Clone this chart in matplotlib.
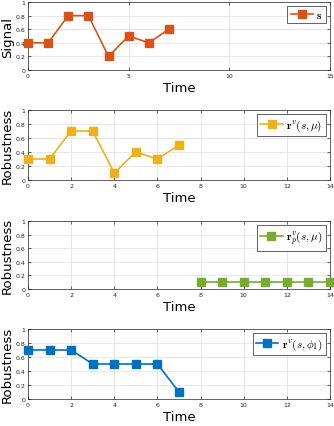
import matplotlib.pyplot as plt
import numpy as np

plt.rcParams["mathtext.fontset"] = "cm"
plt.rcParams["font.family"] = "DejaVu Sans"

# data
t_signal = [0, 1, 2, 3, 4, 5, 6, 7]
signal = [0.4, 0.4, 0.8, 0.8, 0.2, 0.5, 0.4, 0.6]

t_rob_mu = [0, 1, 2, 3, 4, 5, 6, 7]
rob_mu = [0.3, 0.3, 0.7, 0.7, 0.1, 0.4, 0.3, 0.5]

t_rob_p = [8, 9, 10, 11, 12, 13, 14]
rob_p = [0.1, 0.1, 0.1, 0.1, 0.1, 0.1, 0.1]

t_rob_phi = [0, 1, 2, 3, 4, 5, 6, 7]
rob_phi = [0.7, 0.7, 0.7, 0.5, 0.5, 0.5, 0.5, 0.1]

panels = [
    (t_signal, signal, "#D95319", r"$\mathbf{s}$", "Signal", 15, [0, 5, 10, 15]),
    (t_rob_mu, rob_mu, "#EDB120", r"$\mathbf{r}^v(s,\mu)$", "Robustness", 14, list(range(0, 15, 2))),
    (t_rob_p, rob_p, "#77AC30", r"$\mathbf{r}^v_p(s,\mu)$", "Robustness", 14, list(range(0, 15, 2))),
    (t_rob_phi, rob_phi, "#0072BD", r"$\mathbf{r}^v(s,\phi_1)$", "Robustness", 14, list(range(0, 15, 2))),
]

W, H = 334, 427
fig = plt.figure(figsize=(W / 100, H / 100), dpi=100)

# axes boxes in pixels: (left, top, right, bottom)
boxes = [(28, 3, 330, 71), (28, 111, 330, 181), (28, 222, 330, 290), (28, 330, 330, 400)]

for (t, y, color, label, ylabel, xmax, xticks), (l, tp, r, b) in zip(panels, boxes):
    ax = fig.add_axes([l / W, 1 - b / H, (r - l) / W, (b - tp) / H])
    ax.plot(t, y, "-s", color=color, lw=1.2, ms=5.8, mec=color, label=label,
            clip_on=False, zorder=3)
    ax.set_xlim(0, xmax)
    ax.set_ylim(0, 1)
    ax.set_xticks(xticks)
    ax.set_yticks([0, 0.2, 0.4, 0.6, 0.8, 1])
    ax.set_yticklabels(["0", "0.2", "0.4", "0.6", "0.8", "1"])
    ax.tick_params(labelsize=4.5, direction="in", length=2, width=0.5,
                   top=True, right=True, colors="#262626", pad=2)
    ax.grid(True, color="#e3e3e3", lw=0.6)
    ax.set_axisbelow(True)
    for s in ax.spines.values():
        s.set_linewidth(0.5)
        s.set_color("#262626")
    ax.set_xlabel("Time", fontsize=9.5, labelpad=2)
    ax.set_ylabel(ylabel, fontsize=9.5, labelpad=1)
    leg = ax.legend(loc="upper right", fontsize=8, handlelength=2.0,
                    borderpad=0.3, handletextpad=0.3, fancybox=False,
                    framealpha=1, borderaxespad=0.4)
    leg.get_frame().set_edgecolor("#262626")
    leg.get_frame().set_linewidth(0.5)

fig.savefig("out.png", dpi=100)
